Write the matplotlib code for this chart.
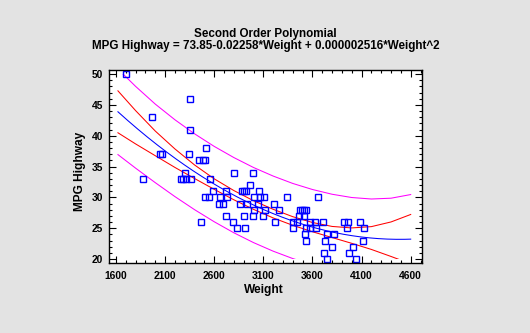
import numpy as np
import matplotlib
matplotlib.use("Agg")
import matplotlib.pyplot as plt
from matplotlib.patches import Rectangle
from matplotlib.ticker import MultipleLocator

plt.rcParams['font.family'] = ['Liberation Sans', 'DejaVu Sans']
plt.rcParams['font.weight'] = 'bold'

# Observed cars: curb weight (lb) and highway MPG
weight = [1700, 2350, 1965, 2350, 2520,
          2045, 2065, 2345,
          2450, 2490, 2510,
          2305, 2805, 2990,
          1870, 2260, 2285, 2315, 2365, 2560,
          2965,
          2590, 2720, 2880, 2905, 2925, 3055,
          2510, 2550, 2660, 2735, 3010, 3070, 3110, 3345, 3660,
          2650, 2690, 2865, 2935, 3050, 3210,
          3010, 3115, 3260, 3475, 3495, 3515, 3535,
          2715, 2905, 2990, 3100, 3465, 3515,
          2470, 2795, 3220, 3400, 3440, 3580, 3630, 3710, 3925, 3965, 4080,
          2835, 2915, 3400, 3535, 3580, 3640, 3955, 4125,
          3525, 3750, 3820,
          3535, 3730, 4115,
          3800, 4015,
          3720, 3975,
          3750, 4045]
mpg_highway = [50, 46, 43, 41, 38,
               37, 37, 37,
               36, 36, 36,
               34, 34, 34,
               33, 33, 33, 33, 33, 33,
               32,
               31, 31, 31, 31, 31, 31,
               30, 30, 30, 30, 30, 30, 30, 30, 30,
               29, 29, 29, 29, 29, 29,
               28, 28, 28, 28, 28, 28, 28,
               27, 27, 27, 27, 27, 27,
               26, 26, 26, 26, 26, 26, 26, 26, 26, 26, 26,
               25, 25, 25, 25, 25, 25, 25, 25,
               24, 24, 24,
               23, 23, 23,
               22, 22,
               21, 21,
               20, 20]

# Fitted model coefficients
b0, b1, b2 = 73.85, -0.02258, 0.000002516

# Confidence and prediction limits
band_weight = [1620, 1800, 2000, 2200, 2400, 2600, 2800, 3000,
               3200, 3400, 3600, 3800, 4000, 4200, 4400, 4600]
conf_upper = [47.27, 44.06, 40.75, 37.85, 35.25, 33.00, 31.10, 29.45,
              28.06, 26.86, 25.92, 25.28, 25.04, 25.25, 26.01, 27.22]
conf_lower = [40.47, 38.66, 36.75, 34.85, 33.05, 31.30, 29.60, 28.05,
              26.66, 25.46, 24.42, 23.48, 22.54, 21.55, 20.41, 19.22]
pred_upper = [50.81, 47.99, 45.12, 42.58, 40.30, 38.26, 36.45, 34.84,
              33.45, 32.25, 31.27, 30.50, 29.97, 29.73, 29.86, 30.45]
pred_lower = [36.93, 34.73, 32.38, 30.12, 28.00, 26.04, 24.25, 22.66,
              21.27, 20.07, 19.07, 18.25, 17.60, 17.06, 16.56, 15.99]

x_ticks = [1600, 2100, 2600, 3100, 3600, 4100, 4600]
y_ticks = [20, 25, 30, 35, 40, 45, 50]

W, H = 530, 333
fig = plt.figure(figsize=(W / 100, H / 100), dpi=100, facecolor='#e3e3e3')
ax = fig.add_axes([109 / W, 1 - 262.7 / H, 312.7 / W, 192.7 / H])
ax.set_facecolor('white')

xlim = (1529, 4712)
ax.set_xlim(*xlim)
ax.set_ylim(19.4, 50.65)

# lines are clipped to the 20..50 range
clip = Rectangle((xlim[0], 20), xlim[1] - xlim[0], 30, transform=ax.transData)

wfit = np.linspace(band_weight[0], band_weight[-1], 300)
yfit = b0 + b1 * wfit + b2 * wfit ** 2
lines = []
lines += ax.plot(band_weight, pred_upper, color='#ff00ff', lw=0.75)
lines += ax.plot(band_weight, pred_lower, color='#ff00ff', lw=0.75)
lines += ax.plot(band_weight, conf_upper, color='#ff0000', lw=0.75)
lines += ax.plot(band_weight, conf_lower, color='#ff0000', lw=0.75)
lines += ax.plot(wfit, yfit, color='#0000ff', lw=0.75)
for ln in lines:
    ln.set_clip_path(clip)

ax.plot(weight, mpg_highway, linestyle='none', marker='s', markersize=4.0,
        markerfacecolor='none', markeredgecolor='#0000ff', markeredgewidth=1.0)

ax.set_xticks(x_ticks)
ax.set_yticks(y_ticks)
ax.xaxis.set_minor_locator(MultipleLocator(100))
ax.yaxis.set_minor_locator(MultipleLocator(1))
ax.tick_params(which='both', direction='in', top=True, right=True,
               colors='black', labelsize=7.4)
ax.tick_params(which='major', length=4.8, width=0.8)
ax.tick_params(which='minor', length=2.4, width=0.8)
ax.tick_params(axis='x', pad=6)
ax.tick_params(axis='y', pad=4.5)
for lab in ax.get_xticklabels() + ax.get_yticklabels():
    lab.set_fontweight('bold')
for sp in ax.spines.values():
    sp.set_linewidth(1.0)
    sp.set_color('black')

fig.text(265 / W, 1 - 33.5 / H, 'Second Order Polynomial', ha='center', va='center',
         fontsize=8.4, fontweight='bold')
fig.text(265.5 / W, 1 - 46 / H,
         'MPG Highway = 73.85-0.02258*Weight + 0.000002516*Weight^2',
         ha='center', va='center', fontsize=8.4, fontweight='bold')
fig.text(264 / W, 1 - 289.5 / H, 'Weight', ha='center', va='center',
         fontsize=8.6, fontweight='bold')
fig.text(80.5 / W, 1 - 171 / H, 'MPG Highway', ha='center', va='center',
         rotation=90, fontsize=8.6, fontweight='bold')

fig.savefig('out.png', dpi=100, facecolor=fig.get_facecolor())
